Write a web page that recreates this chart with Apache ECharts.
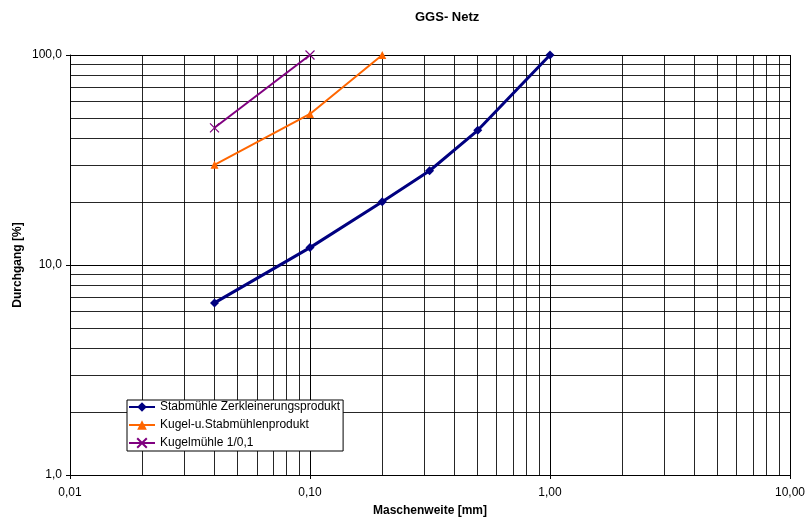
<!DOCTYPE html>
<html><head><meta charset="utf-8">
<script src="https://cdn.jsdelivr.net/npm/echarts@6/dist/echarts.min.js"></script>
<style>html,body{margin:0;padding:0;background:#fff}#c{width:808px;height:522px}</style>
</head><body><div id="c"></div>
<script>
const xStab = [0.04, 0.1, 0.2, 0.315, 0.5, 1.0];
const yStab = [6.6, 12.1, 20.0, 28.1, 43.8, 100];
const xKugelStab = [0.04, 0.1, 0.2];
const yKugelStab = [30, 52.4, 100];
const xKugel = [0.04, 0.1];
const yKugel = [45, 100];
const xMinorGrid = [0.02,0.03,0.04,0.05,0.06,0.07,0.08,0.09,0.2,0.3,0.4,0.5,0.6,0.7,0.8,0.9,2,3,4,5,6,7,8,9];
const yMinorGrid = [2,3,4,5,6,7,8,9,20,30,40,50,60,70,80,90];
const names = ['Stabmühle Zerkleinerungsprodukt','Kugel-u.Stabmühlenprodukt','Kugelmühle 1/0,1'];

const zip = (a,b) => a.map((v,i)=>[v,b[i]]);
const font = 'Arial, "Liberation Sans", sans-serif';
const chart = echarts.init(document.getElementById('c'), null, {renderer:'canvas'});
chart.setOption({
  animation:false,
  backgroundColor:'#fff',
  textStyle:{fontFamily:font},
  title:{text:'GGS- Netz', left:415, top:11, padding:0,
    textStyle:{fontSize:13, fontWeight:'bold', color:'#000', fontFamily:font}},
  grid:{left:70, right:16, top:55, bottom:45, containLabel:false},
  legend:{orient:'vertical', left:127, top:400, padding:[1,3,2,1], itemGap:6, z:50,
    itemWidth:26, itemHeight:12, borderColor:'#000', borderWidth:1, backgroundColor:'#fff',
    data:names, textStyle:{fontSize:12, color:'#000', fontFamily:font}},
  xAxis:{type:'log', logBase:10, min:0.01, max:10,
    name:'Maschenweite [mm]', nameLocation:'middle', nameGap:30, nameMoveOverlap:false,
    nameTextStyle:{fontSize:12, fontWeight:'bold', color:'#000', fontFamily:font},
    axisLine:{show:true, lineStyle:{color:'#000', width:1}},
    axisTick:{show:true, length:4, lineStyle:{color:'#000'}},
    axisLabel:{fontSize:12, color:'#000', margin:12, fontFamily:font,
      formatter:v=>Number(v).toFixed(2).replace('.',',')},
    splitLine:{show:true, lineStyle:{color:'#000', width:1}},
    minorTick:{show:false}, minorSplitLine:{show:false}},
  yAxis:{type:'log', logBase:10, min:1, max:100,
    name:'Durchgang [%]', nameLocation:'middle', nameGap:46, nameMoveOverlap:false,
    nameTextStyle:{fontSize:12, fontWeight:'bold', color:'#000', fontFamily:font},
    axisLine:{show:true, lineStyle:{color:'#000', width:1}},
    axisTick:{show:true, length:4, lineStyle:{color:'#000'}},
    axisLabel:{fontSize:12, color:'#000', margin:8, fontFamily:font,
      formatter:v=>Number(v).toFixed(1).replace('.',',')},
    splitLine:{show:true, lineStyle:{color:'#000', width:1}},
    minorTick:{show:false}, minorSplitLine:{show:false}},
  series:[
    {type:'line', name:'_grid', data:[[0.01,1]], symbol:'none', silent:true, z:1,
      lineStyle:{opacity:0}, tooltip:{show:false},
      markLine:{silent:true, symbol:'none', label:{show:false}, animation:false, z:1,
        lineStyle:{color:'#000', width:1, type:'solid', opacity:0.85},
        emphasis:{disabled:true},
        data:[...xMinorGrid.map(v=>({xAxis:v})), ...yMinorGrid.map(v=>({yAxis:v}))]}},
    {type:'line', name:names[0], data:zip(xStab,yStab), z:4,
      symbol:'diamond', symbolSize:9, color:'#000080',
      lineStyle:{color:'#000080', width:3}, itemStyle:{color:'#000080'}},
    {type:'line', name:names[1], data:zip(xKugelStab,yKugelStab), z:3,
      symbol:'triangle', symbolSize:8, color:'#FF6600',
      lineStyle:{color:'#FF6600', width:2}, itemStyle:{color:'#FF6600'}},
    {type:'line', name:names[2], data:zip(xKugel,yKugel), z:3,
      symbol:'path://M0,0L10,10M10,0L0,10', symbolSize:9, color:'#800080',
      lineStyle:{color:'#800080', width:2},
      itemStyle:{color:'#800080', borderColor:'#800080', borderWidth:1.2}}
  ]
});
</script></body></html>
